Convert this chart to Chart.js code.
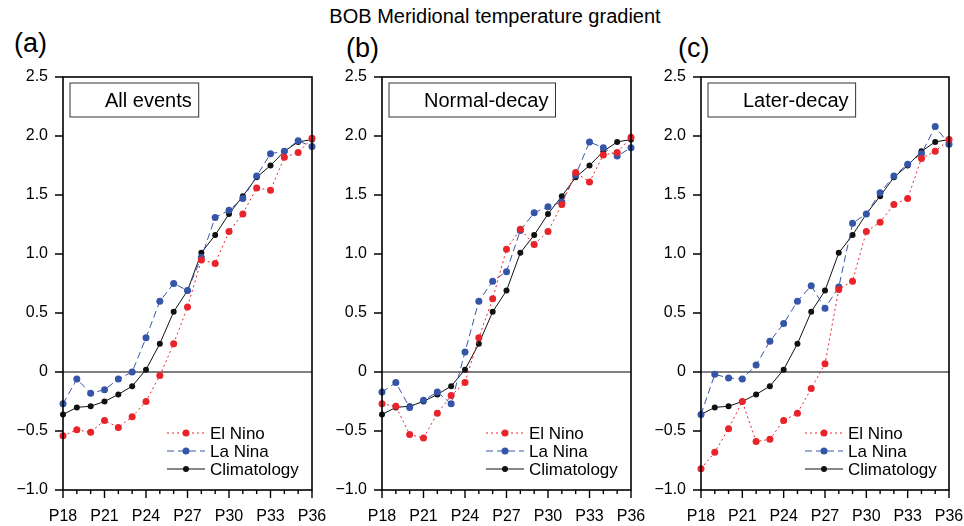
<!DOCTYPE html>
<html>
<head>
<meta charset="utf-8">
<script src="https://cdn.jsdelivr.net/npm/chart.js@4.4.1/dist/chart.umd.min.js"></script>
<style>
  body { margin: 0; background: #fff; width: 964px; height: 526px; position: relative; overflow: hidden; font-family: 'Liberation Sans', Arial, sans-serif; }
  .panel { position: absolute; top: 60px; height: 466px; }
  .lbl { position: absolute; color: #000; white-space: nowrap; }
</style>
</head>
<body>
<div class="lbl" id="title" style="left:0;width:990px;top:5px;text-align:center;font-size:20px;">BOB Meridional temperature gradient</div>
<div class="lbl" style="left:14px;top:28px;font-size:27px;">(a)</div>
<div class="lbl" style="left:346px;top:33px;font-size:27px;">(b)</div>
<div class="lbl" style="left:678px;top:33px;font-size:27px;">(c)</div>
<div class="panel" style="left:0;width:340px;"><canvas id="chartA"></canvas></div>
<div class="panel" style="left:322px;width:340px;"><canvas id="chartB"></canvas></div>
<div class="panel" style="left:641px;width:323px;"><canvas id="chartC"></canvas></div>
<script>
// x categories (pentads)
const periods = ['P18','P19','P20','P21','P22','P23','P24','P25','P26','P27',
                 'P28','P29','P30','P31','P32','P33','P34','P35','P36'];
const seriesNames = ['El Nino', 'La Nina', 'Climatology'];
const panelTitles = ['All events', 'Normal-decay', 'Later-decay'];

// climatology is the same curve in all three panels
const climatology = [-0.36,-0.30,-0.29,-0.25,-0.19,-0.12,0.02,0.24,0.51,0.69,1.01,1.16,1.34,1.49,1.65,1.75,1.87,1.95,1.97];

// (a) all events
const allElNino  = [-0.54,-0.49,-0.51,-0.41,-0.47,-0.38,-0.25,-0.03,0.24,0.55,0.95,0.92,1.19,1.34,1.56,1.54,1.82,1.86,1.98];
const allLaNina  = [-0.27,-0.06,-0.18,-0.15,-0.06,0.00,0.29,0.60,0.75,0.69,0.97,1.31,1.37,1.47,1.66,1.85,1.87,1.96,1.91];
// (b) normal decay
const normalElNino = [-0.27,-0.29,-0.53,-0.56,-0.35,-0.20,-0.09,0.29,0.62,1.04,1.21,1.08,1.19,1.42,1.69,1.61,1.84,1.86,1.99];
const normalLaNina = [-0.17,-0.09,-0.30,-0.24,-0.17,-0.27,0.17,0.60,0.77,0.85,1.20,1.35,1.40,1.44,1.67,1.95,1.90,1.83,1.90];
// (c) later decay
const laterElNino = [-0.82,-0.68,-0.48,-0.25,-0.59,-0.57,-0.41,-0.35,-0.14,0.07,0.70,0.77,1.19,1.27,1.42,1.47,1.81,1.87,1.97];
const laterLaNina = [-0.36,-0.02,-0.05,-0.06,0.06,0.26,0.41,0.60,0.73,0.54,0.72,1.26,1.34,1.52,1.66,1.76,1.85,2.08,1.93];

const FONT = "'Liberation Sans', Arial, sans-serif";
const RED = '#e8242a', BLUE = '#3556a8', BLACK = '#111';
const styles = [
  { color: RED, dash: [2, 3], r: 3.5 },
  { color: BLUE, dash: [7, 4], r: 3.5 },
  { color: BLACK, dash: [], r: 3 }
];

// zero line, box, tick marks, inset title and legend
const decor = {
  id: 'decor',
  beforeDatasetsDraw(chart) {
    const { ctx, chartArea: a, scales } = chart;
    const y0 = scales.y.getPixelForValue(0);
    ctx.save();
    ctx.strokeStyle = '#000';
    ctx.lineWidth = 1;
    ctx.beginPath();
    ctx.moveTo(a.left, y0); ctx.lineTo(a.right, y0);
    ctx.stroke();
    ctx.restore();
  },
  afterDraw(chart, args, opts) {
    const { ctx, chartArea: a, scales } = chart;
    ctx.save();
    ctx.strokeStyle = '#000';
    ctx.lineWidth = 1.6;
    ctx.strokeRect(a.left, a.top, a.right - a.left, a.bottom - a.top);
    ctx.lineWidth = 1.4;
    ctx.beginPath();
    periods.forEach((p, i) => {
      const x = scales.x.getPixelForValue(i);
      ctx.moveTo(x, a.bottom);
      ctx.lineTo(x, a.bottom + (i % 3 === 0 ? 8 : 4));
    });
    for (let v = -1; v <= 2.5; v += 0.5) {
      const y = scales.y.getPixelForValue(v);
      ctx.moveTo(a.left - 8, y); ctx.lineTo(a.left, y);
    }
    ctx.stroke();

    // inset title box
    ctx.font = '20px ' + FONT;
    const tw = ctx.measureText(opts.title).width;
    const bx = a.left + 7, by = a.top + 6, bw = tw + 42, bh = 34;
    ctx.lineWidth = 1;
    ctx.strokeStyle = '#333';
    ctx.strokeRect(bx, by, bw, bh);
    ctx.fillStyle = '#000';
    ctx.textBaseline = 'middle';
    ctx.textAlign = 'right';
    ctx.fillText(opts.title, bx + bw - 7, by + bh / 2 + 1);

    // legend
    ctx.font = '17px ' + FONT;
    ctx.textAlign = 'left';
    const rowY = [a.bottom - 57, a.bottom - 39, a.bottom - 21];
    seriesNames.forEach((name, k) => {
      const s = styles[k];
      const x1 = a.left + 104, x2 = a.left + 142, y = rowY[k];
      ctx.strokeStyle = s.color;
      ctx.lineWidth = 1;
      ctx.setLineDash(s.dash);
      ctx.beginPath(); ctx.moveTo(x1, y); ctx.lineTo(x2, y); ctx.stroke();
      ctx.setLineDash([]);
      ctx.fillStyle = s.color;
      ctx.beginPath(); ctx.arc((x1 + x2) / 2, y, s.r, 0, Math.PI * 2); ctx.fill();
      ctx.fillStyle = '#000';
      ctx.fillText(name, a.left + 147, y + 1);
    });
    ctx.restore();
  }
};

// let the layout padding alone decide the plot area
function noOverflow(s) {
  s.paddingLeft = 0; s.paddingRight = 0; s.paddingTop = 0; s.paddingBottom = 0;
}

function makePanel(id, elNino, laNina, title, axisWidth, padRight) {
  const series = [elNino, laNina, climatology];
  new Chart(document.getElementById(id), {
    type: 'line',
    data: {
      labels: periods,
      datasets: series.map((d, k) => ({
        label: seriesNames[k],
        data: d,
        borderColor: styles[k].color,
        backgroundColor: styles[k].color,
        borderWidth: 1,
        borderDash: styles[k].dash,
        pointRadius: styles[k].r,
        pointBorderWidth: 0,
        pointBackgroundColor: styles[k].color,
        tension: 0,
        clip: false
      }))
    },
    options: {
      responsive: true,
      maintainAspectRatio: false,
      animation: false,
      layout: { padding: { top: 17, right: padRight, bottom: 0, left: 0 } },
      plugins: {
        legend: { display: false },
        tooltip: { enabled: false },
        decor: { title: title }
      },
      scales: {
        x: {
          offset: false,
          grid: { display: false, drawTicks: false },
          border: { display: false },
          ticks: {
            autoSkip: false, maxRotation: 0, padding: 17, color: '#000',
            font: { family: FONT, size: 16 },
            callback: (v, i) => (i % 3 === 0 ? periods[i] : '')
          },
          afterFit: s => { s.height = 36; noOverflow(s); }
        },
        y: {
          min: -1, max: 2.5,
          grid: { display: false, drawTicks: false },
          border: { display: false },
          ticks: {
            stepSize: 0.5, padding: 15, color: '#000',
            font: { family: FONT, size: 16 },
            callback: v => v === 0 ? '0' : (v < 0 ? '\u2212' : '') + Math.abs(v).toFixed(1)
          },
          afterFit: s => { s.width = axisWidth; noOverflow(s); }
        }
      }
    },
    plugins: [decor]
  });
}

makePanel('chartA', allElNino, allLaNina, panelTitles[0], 63, 28);
makePanel('chartB', normalElNino, normalLaNina, panelTitles[1], 60, 31);
makePanel('chartC', laterElNino, laterLaNina, panelTitles[2], 60, 15);
</script>
</body>
</html>
